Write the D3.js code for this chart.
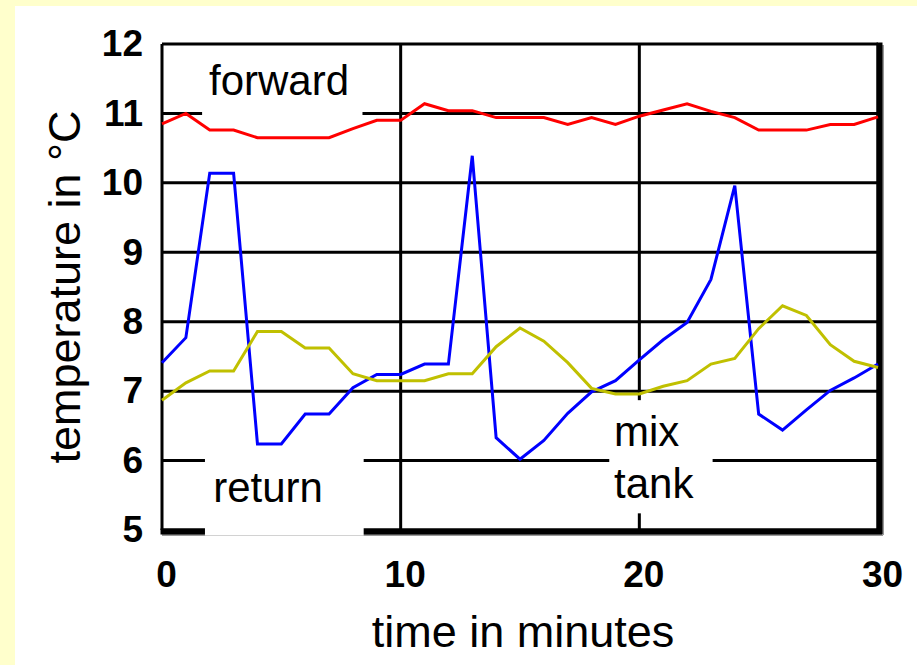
<html>
<head>
  <title>Temperatures</title>
  <script src="https://d3js.org/d3.v7.min.js"></script>
  <style>
    body { margin: 0; background: #ffffcc; }
    text { font-family: "Liberation Sans", Arial, sans-serif; }
  </style>
</head>
<body>
  <script>

	var minutes = d3.range(0, 31);
	var forward = [10.85, 11.0, 10.76, 10.76, 10.65, 10.65, 10.65, 10.65, 10.78, 10.9, 10.9,
	               11.14, 11.04, 11.04, 10.94, 10.94, 10.94, 10.84, 10.94, 10.84, 10.96,
	               11.05, 11.14, 11.03, 10.94, 10.76, 10.76, 10.76, 10.84, 10.84, 10.95];
	var ret = [7.41, 7.77, 10.14, 10.14, 6.24, 6.24, 6.67, 6.67, 7.05, 7.24, 7.24,
	           7.39, 7.39, 10.39, 6.33, 6.02, 6.29, 6.68, 6.99, 7.15, 7.45,
	           7.74, 7.99, 8.61, 9.96, 6.67, 6.44, 6.73, 7.01, 7.19, 7.39];
	var mixTank = [6.87, 7.12, 7.29, 7.29, 7.86, 7.86, 7.62, 7.62, 7.25, 7.15, 7.15,
	               7.15, 7.25, 7.25, 7.64, 7.91, 7.72, 7.41, 7.04, 6.96, 6.96,
	               7.07, 7.15, 7.39, 7.47, 7.90, 8.23, 8.09, 7.67, 7.43, 7.34];
	var xTicks = [0, 10, 20, 30];
	var yTicks = [5, 6, 7, 8, 9, 10, 11, 12];

	var svg = d3.select('body')
	            .append('svg')
	              .attr('width', 917)
	              .attr('height', 665);

	// white panel over the yellow page
	svg.append('rect')
	  .attr('x', 15).attr('y', 6)
	  .attr('width', 917).attr('height', 665)
	  .attr('fill', '#fff');

	var x = d3.scaleLinear().domain([0, 30]).range([162, 878]);
	var y = d3.scaleLinear().domain([5, 12]).range([530, 44]);

	// grid
	svg.selectAll('.hgrid')
	  .data(yTicks)
	  .enter().append('line')
	    .attr('x1', x(0)).attr('x2', x(30))
	    .attr('y1', function(d){ return y(d); })
	    .attr('y2', function(d){ return y(d); })
	    .attr('stroke', '#000').attr('stroke-width', 3);

	svg.selectAll('.vgrid')
	  .data(xTicks)
	  .enter().append('line')
	    .attr('x1', function(d){ return x(d); })
	    .attr('x2', function(d){ return x(d); })
	    .attr('y1', y(12)).attr('y2', y(5))
	    .attr('stroke', '#000').attr('stroke-width', 3);

	// heavier right and bottom frame with a grey shadow
	svg.append('line')
	  .attr('x1', x(30) + 5).attr('x2', x(30) + 5)
	  .attr('y1', y(12) + 1).attr('y2', y(5) + 5)
	  .attr('stroke', '#999').attr('stroke-width', 2);
	svg.append('line')
	  .attr('x1', x(0)).attr('x2', x(30) + 5)
	  .attr('y1', y(5) + 5).attr('y2', y(5) + 5)
	  .attr('stroke', '#999').attr('stroke-width', 2);
	svg.append('line')
	  .attr('x1', x(30) + 1.5).attr('x2', x(30) + 1.5)
	  .attr('y1', y(12) - 1.5).attr('y2', y(5) + 4)
	  .attr('stroke', '#000').attr('stroke-width', 6);
	svg.append('line')
	  .attr('x1', x(0) - 1.5).attr('x2', x(30) + 4)
	  .attr('y1', y(5) + 1.5).attr('y2', y(5) + 1.5)
	  .attr('stroke', '#000').attr('stroke-width', 6);

	// white boxes behind the series names
	var boxes = [
	  {x0: 1.68, x1: 8.4, y0: 11.88, y1: 10.93},
	  {x0: 1.8, x1: 8.45, y0: 6.19, y1: 4.92},
	  {x0: 18.74, x1: 23.07, y0: 6.87, y1: 5.24}
	];
	svg.selectAll('.box')
	  .data(boxes)
	  .enter().append('rect')
	    .attr('x', function(d){ return x(d.x0); })
	    .attr('y', function(d){ return y(d.y0); })
	    .attr('width', function(d){ return x(d.x1) - x(d.x0); })
	    .attr('height', function(d){ return y(d.y1) - y(d.y0); })
	    .attr('fill', '#fff');

	// axes
	var yAxis = svg.append('g')
	  .attr('transform', 'translate(' + (x(0) - 19) + ',0)')
	  .call(d3.axisLeft(y).tickValues(yTicks).tickSize(0).tickPadding(0).tickFormat(d3.format('d')));
	var xAxis = svg.append('g')
	  .attr('transform', 'translate(0,' + (y(5) + 31) + ')')
	  .call(d3.axisBottom(x).tickValues(xTicks).tickSize(0).tickPadding(0).tickFormat(d3.format('d')));
	[yAxis, xAxis].forEach(function(a){
	  a.select('.domain').remove();
	  a.selectAll('text')
	    .attr('font-family', '"Liberation Sans", Arial, sans-serif')
	    .attr('font-size', 37)
	    .attr('font-weight', 'bold')
	    .attr('fill', '#000');
	});
	xAxis.selectAll('text').attr('dx', 4);

	svg.append('text')
	  .attr('x', 523).attr('y', 647)
	  .attr('text-anchor', 'middle')
	  .attr('font-size', 45)
	  .text('time in minutes');

	svg.append('text')
	  .attr('transform', 'translate(80,287) rotate(-90)')
	  .attr('text-anchor', 'middle')
	  .attr('font-size', 45)
	  .text('temperature in °C');

	// series names
	var names = [
	  {t: 'forward', x: 279, y: 95, a: 'middle'},
	  {t: 'return', x: 268, y: 502, a: 'middle'},
	  {t: 'mix', x: 614, y: 446, a: 'start'},
	  {t: 'tank', x: 614, y: 498, a: 'start'}
	];
	svg.selectAll('.name')
	  .data(names)
	  .enter().append('text')
	    .attr('x', function(d){ return d.x; })
	    .attr('y', function(d){ return d.y; })
	    .attr('text-anchor', function(d){ return d.a; })
	    .attr('font-size', 42)
	    .text(function(d){ return d.t; });

	// series lines
	var series = [
	  {values: forward, color: '#ff0000'},
	  {values: ret, color: '#0000ff'},
	  {values: mixTank, color: '#c0c000'}
	];
	var line = d3.line()
	  .x(function(d, i){ return x(minutes[i]); })
	  .y(function(d){ return y(d); });

	svg.selectAll('.series')
	  .data(series)
	  .enter().append('path')
	    .attr('d', function(d){ return line(d.values); })
	    .attr('fill', 'none')
	    .attr('stroke', function(d){ return d.color; })
	    .attr('stroke-width', 3);

  </script>
</body>
</html>
